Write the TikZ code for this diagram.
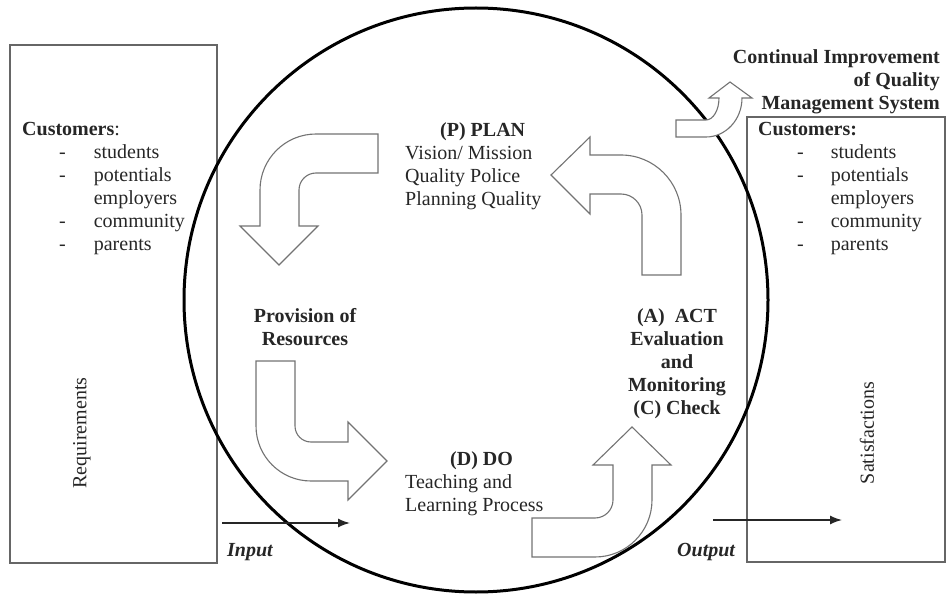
\documentclass[tikz,border=0pt]{standalone}
\usepackage{fontspec}
\setmainfont{Liberation Serif}
\usetikzlibrary{arrows.meta}

\begin{document}
\begin{tikzpicture}[x=1pt,y=-1pt,
    txt/.style={inner sep=0pt,text=black!85,font=\fontsize{20}{23}\selectfont},
    boldtxt/.style={txt,font=\fontsize{20}{23}\selectfont\bfseries},
    panel/.style={draw=black!60,line width=1.2pt},
    bigarrow/.style={draw=black!55,line width=1.1pt,fill=white,line join=miter},
    flow/.style={draw=black!85,line width=1.4pt,-{Latex[length=12pt,width=9pt]}}]
    \useasboundingbox (0,0) rectangle (946,596);
    \draw[panel] (10,45) rectangle (217,563);
    \draw[panel] (747,117) rectangle (945,562);
    \draw[line width=3pt] (476,300) circle[radius=292pt];
    % plan arrow
    \draw[bigarrow] (642,275) -- (642,215) arc[start angle=0,end angle=-90,radius=21]
        -- (590,194) -- (590,214) -- (551,175) -- (590,137) -- (590,155) -- (621,155)
        arc[start angle=-90,end angle=0,radius=60] -- (681,275) -- cycle;
    \draw[bigarrow] (378,134) -- (316,134) arc[start angle=-90,end angle=-180,radius=56]
        -- (260,226) -- (240,226) -- (279,265) -- (318,226) -- (299,226) -- (299,190)
        arc[start angle=180,end angle=270,radius=17] -- (378,173) -- cycle;
    % do arrow
    \draw[bigarrow] (256,361) -- (256,426) arc[start angle=180,end angle=90,radius=55]
        -- (348,481) -- (348,500) -- (387,461) -- (348,422) -- (348,442) -- (311,442)
        arc[start angle=90,end angle=180,radius=16] -- (295,361) -- cycle;
    % check arrow
    \draw[bigarrow] (532,518) -- (595,518) arc[start angle=90,end angle=0,radius=18]
        -- (613,465) -- (593,465) -- (632,427) -- (671,465) -- (652,465) -- (652,500)
        arc[start angle=0,end angle=90,radius=57] -- (532,557) -- cycle;
    \draw[bigarrow] (676,120) -- (706,120) arc[start angle=90,end angle=0,x radius=13,y radius=22]
        -- (709,98) -- (730,82) -- (752,98) -- (742,98)
        arc[start angle=0,end angle=90,x radius=36,y radius=39] -- (676,137) -- cycle;
    \node[txt,anchor=base west] (custL) at (22,136) {\begin{tabular}[t]{@{\hspace{37pt}}l@{\hspace{28pt}}l@{}}
        \multicolumn{2}{@{}l@{}}{\textbf{Customers}:}\\
        - & students\\ - & potentials\\ & employers\\ - & community\\ - & parents
    \end{tabular}};
    \node[txt,anchor=base west] (custR) at (758,136) {\begin{tabular}[t]{@{\hspace{39pt}}l@{\hspace{27pt}}l@{}}
        \multicolumn{2}{@{}l@{}}{\textbf{Customers:}}\\
        - & students\\ - & potentials\\ & employers\\ - & community\\ - & parents
    \end{tabular}};
    \node[boldtxt,anchor=base east] (impr) at (940,64) {\begin{tabular}[t]{@{}r@{}}
        Continual Improvement\\ of Quality\\ Management System\end{tabular}};
    \node[txt,anchor=base west] (plan) at (405,137) {\begin{tabular}[t]{@{}l@{}}
        \hspace{35pt}\textbf{(P) PLAN}\\ Vision/ Mission\\ Quality Police\\ Planning Quality\end{tabular}};
    \node[boldtxt,anchor=base] (prov) at (305,323) {\begin{tabular}[t]{@{}c@{}}
        Provision of\\ Resources\end{tabular}};
    \node[txt,anchor=base west] (do) at (405,465) {\begin{tabular}[t]{@{}l@{}}
        \hspace{45pt}\textbf{(D) DO}\\ Teaching and\\ Learning Process\end{tabular}};
    \node[boldtxt,anchor=base] (act) at (677,323) {\begin{tabular}[t]{@{}c@{}}
        (A)~ ACT\\ Evaluation\\ and\\ Monitoring\\ (C) Check\end{tabular}};
    \node[txt,rotate=90] (req) at (82,433) {Requirements};
    \node[txt,rotate=90] (sat) at (867,433) {Satisfactions};
    \node[boldtxt,anchor=base west,font=\fontsize{20}{23}\selectfont\bfseries\itshape] (inlbl) at (227,556) {Input};
    \node[boldtxt,anchor=base west,font=\fontsize{20}{23}\selectfont\bfseries\itshape] (outlbl) at (677,556) {Output};
    \coordinate (inA) at (222,523);
    \coordinate (inB) at (350,523);
    \coordinate (outA) at (713,520);
    \coordinate (outB) at (842,520);
    \draw[flow] (inA) -- (inB);
    \draw[flow] (outA) -- (outB);
\end{tikzpicture}
\end{document}
